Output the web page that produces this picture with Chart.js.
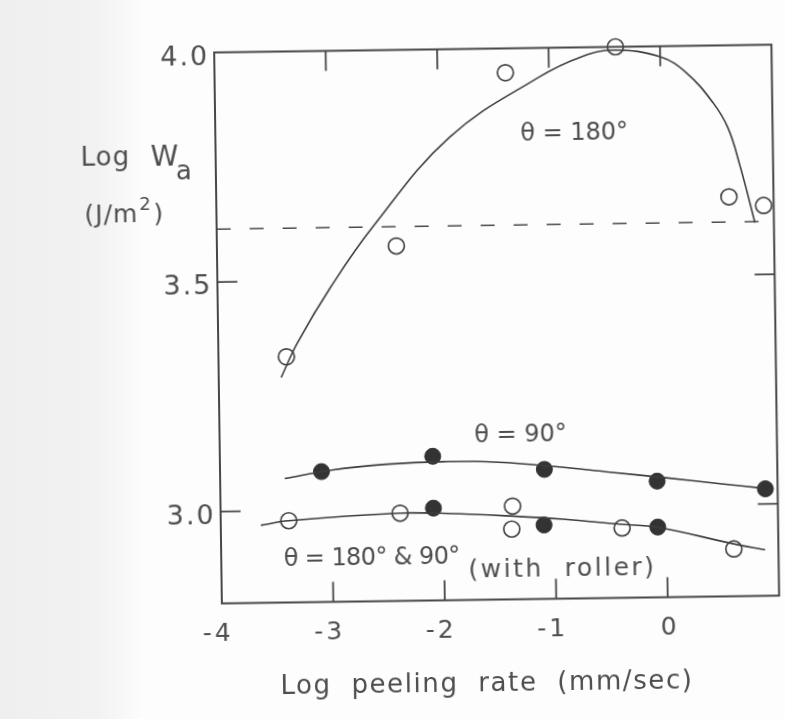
<!DOCTYPE html>
<html>
<head>
<meta charset="utf-8">
<script src="https://cdn.jsdelivr.net/npm/chart.js@4.4.1/dist/chart.umd.min.js"></script>
<style>
  html, body { margin: 0; padding: 0; background: #fdfdfd; overflow: hidden; }
  #page { position: relative; width: 785px; height: 719px; overflow: hidden; }
  #margin { position: absolute; left: 0; top: 0; width: 140px; height: 719px;
            background: linear-gradient(to right, #efefef, #f2f2f2 70%, #fcfcfc); }
  #sheet { position: absolute; left: 0; top: 0; width: 785px; height: 719px;
           transform: rotate(-0.8deg); transform-origin: 500px 324px; }
</style>
</head>
<body>
<div id="page">
  <div id="margin"></div>
  <div id="sheet"><canvas id="chart" width="785" height="719"></canvas></div>
</div>
<script>
// Log peeling rate (mm/sec) vs. Log W_a (J/m^2)

// theta = 180 deg, open circles
const rate180 = [-3.39, -2.39, -1.39, -0.40, 0.60, 0.91];
const wa180   = [3.335, 3.573, 3.947, 4.00, 3.67, 3.65];

// theta = 90 deg, filled circles
const rate90 = [-3.09, -2.09, -1.09, -0.08, 0.89];
const wa90   = [3.084, 3.114, 3.082, 3.053, 3.033];

// with roller: theta = 180 deg (open) and 90 deg (filled)
const rateRoller180 = [-3.39, -2.39, -1.38, -1.39, -0.40, 0.60];
const waRoller180   = [2.978, 2.991, 3.003, 2.953, 2.952, 2.903];
const rateRoller90  = [-2.09, -1.10, -0.08];
const waRoller90    = [3.001, 2.961, 2.953];

// drawn trend curves
const curve180Rate = [-3.44, -3.29, -2.98, -2.60, -1.90, -1.10, -0.70, -0.41, 0.00, 0.235, 0.47, 0.60, 0.70, 0.83];
const curve180Wa   = [3.29, 3.365, 3.487, 3.615, 3.808, 3.935, 3.980, 3.993, 3.977, 3.941, 3.875, 3.82, 3.74, 3.613];
const curve90Rate  = [-3.42, -3.0, -2.5, -2.0, -1.5, -1.0, -0.5, 0.0, 0.5, 0.85];
const curve90Wa    = [3.07, 3.087, 3.098, 3.102, 3.099, 3.088, 3.074, 3.06, 3.045, 3.035];
const curveRollerRate = [-3.64, -3.39, -2.39, -1.96, -1.37, -0.93, -0.40, -0.09, 0.60, 0.88];
const curveRollerWa   = [2.969, 2.978, 2.991, 2.989, 2.981, 2.973, 2.96, 2.953, 2.914, 2.90];

// horizontal dashed level
const levelWa = 3.615;

// axes
const xTicks = [-4, -3, -2, -1, 0];
const xTickLabels = ['-4', '-3', '-2', '-1', '0'];
const yTicks = [4.0, 3.5, 3.0];
const yTickLabels = ['4.0', '3.5', '3.0'];
const xRange = [-4, 1];
const yRange = [2.8, 4.0];

const FONT = '"DejaVu Sans", sans-serif';
const INK = '#3d3d3d';
const TEXT = '#4e4e4e';

const pts = (xs, ys) => xs.map((x, i) => ({ x: x, y: ys[i] }));

const curveStyle = {
  type: 'line', showLine: true, pointRadius: 0, borderColor: INK, borderWidth: 1.6,
  tension: 0.4, fill: false, clip: false
};
const openStyle = {
  type: 'scatter', pointRadius: 8, pointHoverRadius: 8, pointBackgroundColor: '#ffffff',
  pointBorderColor: '#474747', pointBorderWidth: 1.7, clip: false
};
const filledStyle = {
  type: 'scatter', pointRadius: 8, pointHoverRadius: 8, pointBackgroundColor: '#333333',
  pointBorderColor: '#333333', pointBorderWidth: 1, clip: false
};

const frame = {
  id: 'frame',
  afterDatasetsDraw(chart) {
    const { ctx, chartArea: a, scales: { x, y } } = chart;
    ctx.save();
    ctx.strokeStyle = '#474747';
    ctx.lineWidth = 2;
    ctx.strokeRect(a.left, a.top, a.right - a.left, a.bottom - a.top);
    ctx.lineWidth = 1.8;
    const tl = 20;
    ctx.beginPath();
    xTicks.forEach(v => {
      if (v === xRange[0]) return;
      const px = x.getPixelForValue(v);
      ctx.moveTo(px, a.top); ctx.lineTo(px, a.top + tl);
      ctx.moveTo(px, a.bottom); ctx.lineTo(px, a.bottom - tl);
    });
    yTicks.forEach(v => {
      if (v === yRange[1]) return;
      const py = y.getPixelForValue(v);
      ctx.moveTo(a.left, py); ctx.lineTo(a.left + tl, py);
      ctx.moveTo(a.right, py); ctx.lineTo(a.right - tl, py);
    });
    ctx.stroke();

    // tick labels
    ctx.fillStyle = TEXT;
    ctx.font = '25px ' + FONT;
    ctx.letterSpacing = '3px';
    ctx.textBaseline = 'alphabetic';
    ctx.textAlign = 'center';
    xTicks.forEach((v, i) => {
      const s = xTickLabels[i];
      const digits = s.replace('-', '');
      const shift = (ctx.measureText(s).width - ctx.measureText(digits).width) / 2;
      ctx.fillText(s, x.getPixelForValue(v) - shift + 2, a.bottom + 37);
    });
    ctx.font = '27px ' + FONT;
    ctx.letterSpacing = '2px';
    ctx.textAlign = 'right';
    yTicks.forEach((v, i) => {
      ctx.fillText(yTickLabels[i], a.left - 5, y.getPixelForValue(v) + 12);
    });

    // axis titles
    ctx.textAlign = 'center';
    ctx.font = '26px ' + FONT;
    ctx.letterSpacing = '1.6px';
    ctx.fillText('Log  peeling  rate  (mm/sec)', 482, 691);

    ctx.textAlign = 'left';
    ctx.letterSpacing = '1px';
    ctx.fillText('Log', 83, 160);
    ctx.font = '28px ' + FONT;
    ctx.fillText('W', 153, 161);
    ctx.font = '26px ' + FONT;
    ctx.fillText('a', 178, 175);
    ctx.font = '25px ' + FONT;
    ctx.fillText('(J/m', 86, 217);
    const w = ctx.measureText('(J/m').width;
    ctx.font = '18px ' + FONT;
    ctx.fillText('2', 86 + w + 1, 205);
    ctx.font = '25px ' + FONT;
    ctx.fillText(')', 86 + w + 15, 217);

    // curve labels
    ctx.font = '24px ' + FONT;
    ctx.textAlign = 'center';
    ctx.letterSpacing = '0px';
    const note = (t, xv, yv) => ctx.fillText(t, x.getPixelForValue(xv), y.getPixelForValue(yv) + 10);
    note('\u03B8 = 180\u00B0', -0.78, 3.82);
    note('\u03B8 = 90\u00B0', -1.30, 3.164);
    ctx.letterSpacing = '-0.6px';
    note('\u03B8 = 180\u00B0 & 90\u00B0', -2.65, 2.902);
    ctx.font = '25px ' + FONT;
    ctx.letterSpacing = '2.5px';
    note('(with  roller)', -0.94, 2.871);
    ctx.restore();
  }
};

new Chart(document.getElementById('chart'), {
  type: 'scatter',
  data: {
    datasets: [
      Object.assign({ label: 'fit 180', data: pts(curve180Rate, curve180Wa) }, curveStyle),
      Object.assign({ label: 'fit 90', data: pts(curve90Rate, curve90Wa) }, curveStyle),
      Object.assign({ label: 'fit roller', data: pts(curveRollerRate, curveRollerWa) }, curveStyle),
      {
        type: 'line', label: 'level', data: pts(xRange, [levelWa, levelWa]),
        borderColor: '#4a4a4a', borderWidth: 1.6, borderDash: [14, 19], pointRadius: 0, fill: false
      },
      Object.assign({ label: '\u03B8 = 180\u00B0', data: pts(rate180, wa180) }, openStyle),
      Object.assign({ label: '\u03B8 = 90\u00B0', data: pts(rate90, wa90) }, filledStyle),
      Object.assign({ label: 'roller 180\u00B0', data: pts(rateRoller180, waRoller180) }, openStyle),
      Object.assign({ label: 'roller 90\u00B0', data: pts(rateRoller90, waRoller90) }, filledStyle)
    ]
  },
  options: {
    responsive: false,
    animation: false,
    events: [],
    layout: { padding: { left: 218, top: 48.5, right: 2, bottom: 119.5 } },
    scales: {
      x: { type: 'linear', min: xRange[0], max: xRange[1], display: false },
      y: { type: 'linear', min: yRange[0], max: yRange[1], display: false }
    },
    plugins: { legend: { display: false }, tooltip: { enabled: false } }
  },
  plugins: [frame]
});
</script>
</body>
</html>
